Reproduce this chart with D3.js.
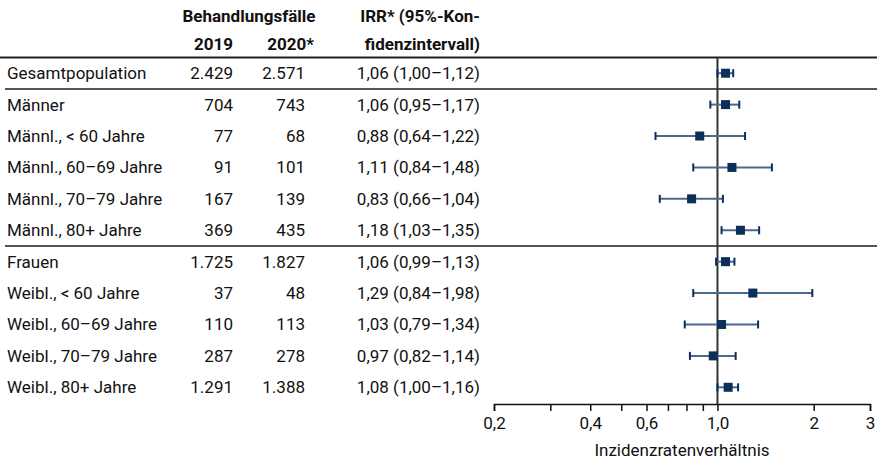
<!DOCTYPE html>
<html><head><meta charset="utf-8">
<script src="https://cdn.jsdelivr.net/npm/d3@7"></script>
<style>
html,body{margin:0;padding:0;background:#fff;}
svg{display:block;font-family:Roboto,"Noto Sans",sans-serif;}
</style></head>
<body>
<svg id="c" width="877" height="462"></svg>
<script>
const labels = ["Gesamtpopulation","Männer","Männl., < 60 Jahre","Männl., 60–69 Jahre","Männl., 70–79 Jahre","Männl., 80+ Jahre","Frauen","Weibl., < 60 Jahre","Weibl., 60–69 Jahre","Weibl., 70–79 Jahre","Weibl., 80+ Jahre"];
const cases2019 = [2429,704,77,91,167,369,1725,37,110,287,1291];
const cases2020 = [2571,743,68,101,139,435,1827,48,113,278,1388];
const irr   = [1.06,1.06,0.88,1.11,0.83,1.18,1.06,1.29,1.03,0.97,1.08];
const lower = [1.00,0.95,0.64,0.84,0.66,1.03,0.99,0.84,0.79,0.82,1.00];
const upper = [1.12,1.17,1.22,1.48,1.04,1.35,1.13,1.98,1.34,1.14,1.16];
const tickValues = [0.2,0.3,0.4,0.5,0.6,0.7,0.8,0.9,1.0,2,3];
const tickLabels = {0.2:"0,2",0.4:"0,4",0.6:"0,6",1:"1,0",2:"2",3:"3"};
const separatorsAfter = [0,5]; // row indices followed by a rule

const de = d3.formatLocale({decimal:",", thousands:".", grouping:[3], currency:["","€"]});
const fmtInt = de.format(",d");
const fmt2 = de.format(".2f");

const svg = d3.select("#c");
const W = 877;
const x = d3.scaleLog().domain([0.2,3]).range([494,870]);
const y = d3.scaleBand().domain(d3.range(labels.length)).range([57.5,403]).paddingInner(0).paddingOuter(0.0);
const yc = i => y(i) + y.bandwidth()/2;

const navy = "#0c2e5a";
const fs = 17;

// header
const hdr = svg.append("g").attr("font-weight","bold").attr("font-size",fs).attr("fill","#111");
hdr.append("text").attr("x",249).attr("y",22).attr("text-anchor","middle").text("Behandlungsfälle");
hdr.append("text").attr("x",233).attr("y",50).attr("text-anchor","end").text("2019");
hdr.append("text").attr("x",314).attr("y",50).attr("text-anchor","end").text("2020*");
hdr.append("text").attr("x",480).attr("y",22).attr("text-anchor","end").text("IRR* (95%-Kon-");
hdr.append("text").attr("x",480).attr("y",50).attr("text-anchor","end").text("fidenzintervall)");

// rules
svg.append("line").attr("x1",0).attr("x2",W).attr("y1",57.5).attr("y2",57.5).attr("stroke","#222").attr("stroke-width",2);
separatorsAfter.forEach(i=>{
  const yy = y(i)+y.bandwidth();
  svg.append("line").attr("x1",5).attr("x2",W).attr("y1",yy).attr("y2",yy).attr("stroke","#555").attr("stroke-width",2);
});

// reference line at 1
svg.append("line").attr("x1",x(1)).attr("x2",x(1)).attr("y1",57.5).attr("y2",404).attr("stroke","#333").attr("stroke-width",2);

// text rows
const rows = svg.append("g").attr("font-size",fs).attr("fill","#111");
labels.forEach((l,i)=>{
  const yy = yc(i)+6;
  rows.append("text").attr("x",7).attr("y",yy).text(l);
  rows.append("text").attr("x",233).attr("y",yy).attr("text-anchor","end").text(fmtInt(cases2019[i]));
  rows.append("text").attr("x",305).attr("y",yy).attr("text-anchor","end").text(fmtInt(cases2020[i]));
  rows.append("text").attr("x",480).attr("y",yy).attr("text-anchor","end")
    .text(`${fmt2(irr[i])} (${fmt2(lower[i])}–${fmt2(upper[i])})`);
});

// CI + markers
const g = svg.append("g");
labels.forEach((l,i)=>{
  const cy = yc(i);
  g.append("line").attr("x1",x(lower[i])).attr("x2",x(upper[i])).attr("y1",cy).attr("y2",cy)
    .attr("stroke","#4a6a8c").attr("stroke-width",2);
  [lower[i],upper[i]].forEach(v=>{
    g.append("line").attr("x1",x(v)).attr("x2",x(v)).attr("y1",cy-4).attr("y2",cy+4)
      .attr("stroke",navy).attr("stroke-width",2);
  });
  g.append("rect").attr("x",x(irr[i])-4.5).attr("y",cy-4.5).attr("width",9).attr("height",9).attr("fill",navy);
});

// axis
const axis = d3.axisBottom(x).tickValues(tickValues).tickSize(7).tickPadding(6)
  .tickFormat(d=>tickLabels[d] || "");
const ax = svg.append("g").attr("transform","translate(0,404)").call(axis);
ax.select(".domain").attr("stroke","#111").attr("stroke-width",1.5);
ax.selectAll(".tick line").attr("stroke","#111").attr("stroke-width",1.5);
ax.selectAll(".tick text").attr("font-size",fs).attr("font-family","Roboto,'Noto Sans',sans-serif").attr("fill","#111");

svg.append("text").attr("x",682).attr("y",456).attr("text-anchor","middle").attr("font-size",fs).attr("fill","#111").text("Inzidenzratenverhältnis");
</script>
</body></html>
